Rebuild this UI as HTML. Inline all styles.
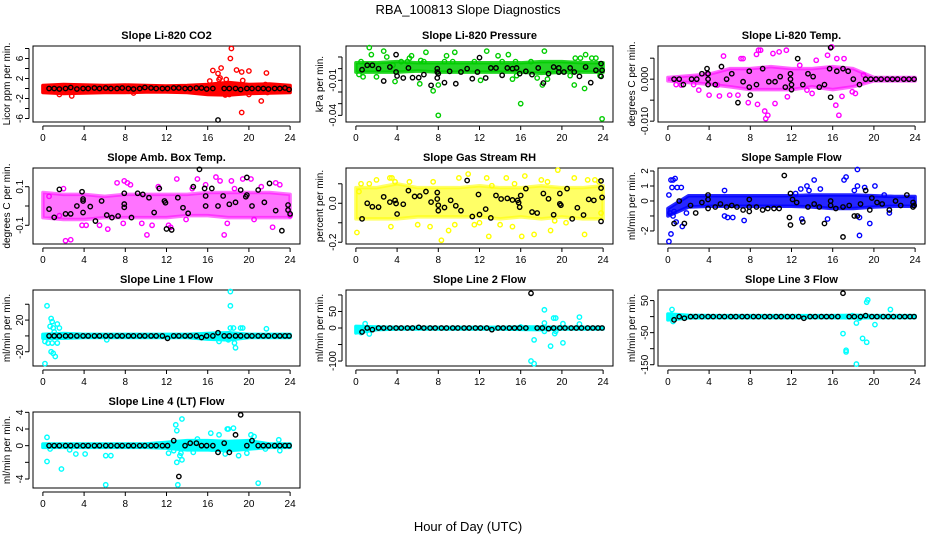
<!DOCTYPE html>
<html><head><meta charset="utf-8">
<style>
html,body{margin:0;padding:0;background:#fff;}
svg{display:block;font-family:"Liberation Sans",sans-serif;}
</style></head>
<body>
<svg id="chart" width="936" height="540" viewBox="0 0 936 540" xmlns="http://www.w3.org/2000/svg">
<text x="468" y="14" text-anchor="middle" font-size="13">RBA_100813  Slope Diagnostics</text>
<text x="468" y="531" text-anchor="middle" font-size="13">Hour of Day (UTC)</text>
</svg>
<script>
const xTicks=[0,4,8,12,16,20,24];
const bandHours=[0,2,4,6,8,10,12,14,16,18,20,22,24];
const blkHours=[0.6,1.1,1.6,2.2,2.7,3.3,3.9,4.4,5,5.5,6.1,6.6,7.2,7.7,8.3,8.8,9.4,9.9,10.5,11,11.6,12.1,12.7,13.2,13.8,14.3,14.9,15.4,15.9,16.5,17,17.6,18.1,18.7,19.2,19.8,20.3,20.9,21.4,21.9,22.5,23,23.5,23.9];

// Panel 1: CO2
const p1Hi=[0.6,0.8,0.7,0.6,0.7,0.6,0.5,0.6,0.8,1.2,0.8,0.9,0.6];
const p1Lo=[-0.8,-1,-0.9,-0.8,-0.8,-0.7,-0.7,-0.8,-1.2,-1.3,-1,-0.9,-0.8];
const p1Pts=[[1.6,-1.2],[2.8,-1.5],[8.8,-0.9],[16.5,3.6],[17,3],[17.3,4.1],[17.1,1.8],[17.2,2.1],[18.3,8],[18.2,6],[18.8,3.7],[19.3,3.3],[19.3,-4.8],[19.4,1.6],[20,3.5],[20,-1.2],[21.2,-2.5],[21.7,3.1],[21.8,-0.8],[17.8,1.8],[16.2,1.5],[18.1,-1.2],[17.7,-1.3],[19.9,-0.5],[21.6,0.8]];
const p1Blk=[0,0,-0.1,0,0.2,-0.1,0,0,0.1,0,0.1,0,0,0.1,0,-0.1,0,0.2,0.1,0,0,0,0.1,0.1,0,0,0.1,0.1,-0.1,0,-6.3,0,0,0,-0.2,0,0,0,0,-0.1,0,0,0.1,-0.2];
const p1Ticks=[-6,-4,-2,0,2,4,6,8];
const p1Labels=["-6","","-2","","2","","6",""];

// Panel 2: Pressure
const p2Hi=[0.005,0.005,0.006,0.005,0.005,0.005,0.005,0.005,0.005,0.006,0.006,0.005,0.005];
const p2Lo=[-0.003,-0.003,-0.003,-0.002,-0.003,-0.003,-0.003,-0.003,-0.003,-0.004,-0.003,-0.003,-0.003];
const p2Pts=[[1.3,0.018],[1.5,0.012],[2.7,0.015],[3,0.01],[0.5,0.006],[0.3,-0.005],[0.7,-0.007],[2,-0.007],[3.6,0.003],[3.8,-0.011],[4.4,0.006],[5,0.006],[5.2,0.009],[5.4,0.011],[6.3,0.007],[6.8,0.014],[6.6,0.006],[6.2,-0.013],[7.5,-0.019],[8,-0.014],[8,-0.04],[8.8,0.011],[8.6,0.006],[9.6,0.014],[9.4,0.006],[11.5,0.006],[12.7,0.015],[13.8,0.011],[12.1,-0.01],[14.2,0.006],[14.8,0.012],[15.2,-0.009],[15.5,0.006],[16,-0.03],[15.6,-0.006],[17,0.006],[17.6,-0.008],[18.3,0.015],[18.1,-0.014],[18.6,-0.009],[19.7,-0.003],[21.2,-0.014],[21.3,0.009],[21.8,0.009],[22.2,-0.017],[22.3,0.012],[22.9,0.009],[23.3,0.009],[23.9,-0.043],[23.7,-0.006],[20.8,-0.006]];
const p2Blk=[[0.6,-0.0009],[1.1,0.0029],[1.6,0.0029],[2.2,0],[2.7,-0.0106],[3.3,0.0014],[3.9,0.012],[3.9,-0.0029],[4,-0.0063],[4.6,-0.008],[5.1,0.0006],[5.5,-0.0077],[6.1,-0.0077],[6.6,-0.0051],[7.3,-0.0143],[7.9,0],[7.9,-0.0029],[7.9,-0.008],[8,-0.0043],[8.6,-0.012],[9.1,-0.0023],[9.7,-0.0129],[10.2,-0.0029],[10.8,0],[11.3,-0.0086],[11.8,-0.0029],[12,0.0094],[12.6,-0.008],[13.1,0.0006],[13.6,0.0006],[14.2,-0.0057],[14.7,0.0006],[15.2,0],[15.6,0.0006],[15.9,-0.0043],[16.5,-0.0023],[17.1,-0.0051],[17.7,0.0006],[18.2,-0.0123],[18.7,-0.0043],[19.2,0.0014],[19.7,0.0006],[19.7,-0.0029],[20.2,-0.0029],[20.8,0.0006],[21.2,-0.0029],[21.7,-0.0066],[22.3,0.0014],[22.8,-0.012],[23.3,-0.0014],[23.8,0.0043],[23.8,-0.0066],[23.9,-0.0014]];
const p2Ticks=[-0.04,-0.03,-0.02,-0.01,0,0.01];
const p2Labels=["-0.04","","","-0.01","",""];

// Panel 3: Temp
const p3Hi=[0.0004,0.0008,0.0012,0.0025,0.0025,0.003,0.0025,0.0025,0.003,0.0025,0.0004,0.0004,0.0004];
const p3Lo=[-0.0004,-0.0008,-0.0012,-0.0018,-0.0025,-0.0025,-0.0025,-0.0018,-0.0025,-0.0018,-0.0004,-0.0004,-0.0004];
const p3Pts=[[8.8,0.0069],[9,0.0069],[8.6,0.0059],[10.2,0.0061],[10.8,0.0065],[11.5,0.0069],[7.1,0.0049],[7.3,0.0049],[5.4,0.0055],[4,-0.0038],[5,-0.004],[6,-0.0038],[7.8,-0.0056],[8.7,-0.006],[9.4,-0.0076],[9.5,-0.0094],[9.7,-0.0086],[10.4,-0.0058],[11.6,-0.0042],[15.9,0.0077],[15.5,0.0057],[16.4,0.0049],[16.6,-0.0086],[16.3,-0.0062],[17.1,0.0049],[17.9,-0.003],[18.2,-0.0034],[4.8,-0.0014],[3,-0.0026],[2.5,-0.0013],[1.3,-0.0014],[0.8,-0.0013],[13.5,-0.0026],[14,-0.0034],[6.8,-0.0038],[19,0.001],[12.8,0.0033],[14.4,0.0045],[3.8,0.0013],[16.9,-0.0041]];
const p3Blk=[[0.6,0],[1.1,0],[1.5,-0.0013],[2.3,0],[2.8,0],[3.3,0.0013],[3.8,0.0025],[3.9,0.0013],[3.9,0],[3.9,-0.0013],[4.6,-0.0013],[5.2,0.003],[5.7,0],[6.2,0.0013],[6.8,-0.0056],[7.3,-0.0006],[7.9,0.0019],[7.9,-0.0019],[8,-0.0038],[8.6,-0.0013],[9.2,0.0025],[9.8,-0.0006],[10.4,-0.0006],[10.9,0.0006],[11.4,-0.0019],[11.9,0.0013],[11.9,0],[12,-0.0013],[12,-0.0025],[12.6,0.0049],[13.1,-0.0013],[13.6,0.0013],[14.1,0.0006],[14.7,-0.0019],[15.2,-0.0013],[15.7,0.0025],[15.8,0.0075],[15.8,-0.0043],[16.4,0.0019],[17,0.0025],[17.5,0.0019],[18,0],[18.6,-0.0013],[19.2,0],[19.7,0],[20.2,0],[20.7,0],[21.3,0],[21.8,0],[22.3,0],[22.9,0],[23.4,0],[23.9,0]];
const p3Ticks=[-0.01,-0.005,0,0.005];
const p3Labels=["-0.010","","0.000",""];

// Panel 4: Amb box temp
const p4Hi=[0.07,0.06,0.06,0.05,0.06,0.06,0.06,0.06,0.07,0.07,0.07,0.07,0.06];
const p4Lo=[-0.06,-0.07,-0.07,-0.06,-0.06,-0.06,-0.06,-0.05,-0.05,-0.06,-0.06,-0.06,-0.06];
const p4Pts=[[2.2,-0.18],[2.7,-0.175],[1.6,-0.05],[0.6,0.05],[2,0.09],[3.8,-0.1],[4.2,-0.1],[5.5,-0.1],[6.3,-0.12],[7.2,0.12],[7.9,0.13],[8.2,0.12],[8.5,0.11],[7.8,-0.09],[9.6,-0.09],[10.1,-0.15],[10.6,-0.1],[11.2,0.1],[12.2,-0.1],[12.4,-0.11],[13,0.14],[13.9,-0.07],[14.5,0.09],[15,0.14],[15.8,0.11],[16.8,0.15],[17.2,0.13],[17.6,-0.15],[17.9,-0.09],[18.3,0.13],[18.6,0.09],[19.4,0.14],[20.2,0.14],[20.5,-0.07],[21.2,0.1],[22.3,-0.11],[22.6,0.12],[23,0.11],[24,-0.05]];
const p4Blk=[[0.6,-0.016],[1.1,-0.059],[1.6,0.086],[2.2,-0.041],[2.7,-0.041],[3.3,0],[3.8,0.074],[3.9,0.026],[3.9,0.036],[3.9,-0.034],[4.6,-0.003],[5.1,-0.078],[5.7,0.026],[6.2,-0.047],[6.7,-0.06],[7.3,-0.052],[7.9,0.066],[7.9,0.01],[7.9,-0.007],[8.6,-0.06],[9.2,0.066],[9.7,0.06],[10.3,0.043],[10.8,-0.034],[11.3,0.091],[11.8,0.026],[11.9,0.017],[12,-0.119],[12.5,-0.124],[13.1,0.043],[13.6,-0.009],[14.1,-0.038],[14.6,0.1],[15.2,0.19],[15.7,0.091],[15.8,0.052],[15.8,0],[16.4,0.091],[17,0],[17.5,0.052],[18.1,0.009],[18.7,0.019],[19.2,0.083],[19.7,0.048],[19.8,0.148],[19.8,0.057],[20.3,0],[20.9,0.083],[21.5,0.019],[22,0.117],[22.6,-0.024],[23.2,-0.128],[23.8,0.005],[23.8,-0.021],[24,-0.041]];
const p4Ticks=[-0.1,0,0.1];
const p4Labels=["-0.1","","0.1"];

// Panel 5: Gas stream RH
const p5Hi=[0.08,0.08,0.1,0.08,0.08,0.08,0.09,0.08,0.08,0.09,0.08,0.08,0.09];
const p5Lo=[-0.08,-0.08,-0.08,-0.07,-0.07,-0.07,-0.07,-0.08,-0.07,-0.08,-0.07,-0.08,-0.08];
const p5Pts=[[0.1,-0.15],[0.5,0.1],[0.3,0.06],[1.3,0.1],[2,0.12],[3.3,0.13],[3.5,0.13],[3.4,-0.12],[3.8,0.11],[5.2,0.11],[6,-0.11],[7.5,0.11],[7.2,-0.12],[8.3,-0.19],[9,-0.14],[9.6,-0.11],[10,0.13],[10.9,0.15],[11.5,-0.11],[12,-0.1],[12.7,0.13],[12.9,-0.17],[13.2,0.09],[14,-0.11],[14.6,0.13],[15.2,-0.12],[15.4,0.1],[16.1,-0.17],[16.4,0.14],[17.3,-0.16],[18,0.12],[18.6,0.11],[18.9,-0.14],[19.6,0.17],[19.3,-0.09],[20.4,-0.1],[21.2,0.13],[22.2,-0.16],[22.5,0.12],[23.2,0.12],[23.8,-0.05],[23.6,0.11]];
const p5Blk=[[0.6,-0.08],[1.1,0],[1.6,-0.018],[2.2,-0.02],[2.7,0.033],[3.3,0.006],[3.8,0.015],[3.9,-0.001],[4,-0.055],[4.6,-0.005],[5.1,0.065],[5.7,0.035],[6.2,0.037],[6.8,0.06],[7.3,0.006],[7.9,0.055],[7.9,0.022],[8,-0.01],[8,-0.038],[8.6,-0.022],[9.2,0.015],[9.7,-0.013],[10.2,-0.038],[10.8,0.117],[11.3,-0.068],[11.9,0.045],[12,-0.058],[12.6,-0.03],[13.1,-0.075],[13.6,0.04],[14.1,0.022],[14.7,0.025],[15.2,0.017],[15.7,0.015],[15.8,0.003],[15.9,-0.02],[16,0.04],[16.5,0.075],[17.1,-0.045],[17.6,-0.05],[18.2,0.05],[18.7,0.023],[19.2,-0.059],[19.8,0.05],[19.8,-0.003],[19.9,-0.01],[20.5,0.075],[21,-0.08],[21.5,-0.023],[22.1,-0.06],[22.6,0.02],[23.1,0.015],[23.8,0.115],[23.8,0.078],[23.9,0.03],[23.8,-0.093]];
const p5Ticks=[-0.2,-0.1,0,0.1];
const p5Labels=["-0.2","","0.0",""];

// Panel 6: Sample flow
const p6Hi=[-0.5,0.35,0.35,0.35,0.35,0.35,0.35,0.4,0.4,0.4,0.35,0.3,0.3];
const p6Lo=[-1.0,-0.4,-0.35,-0.35,-0.35,-0.35,-0.35,-0.4,-0.5,-0.5,-0.4,-0.35,-0.35];
const p6Pts=[[0.1,-2.7],[0.3,-2.2],[0.1,0.4],[0.3,1.4],[0.5,1.4],[0.7,1.5],[0.4,0.9],[0.9,0.9],[1.3,0.9],[1.4,-1.7],[0.8,-1.4],[1.8,-0.8],[5.5,0.7],[5.5,-1],[5.8,-1.1],[6.3,-1.1],[7.4,-1.3],[12.4,0.5],[12.9,0.8],[13,-1.2],[13.5,1],[13.7,0.7],[14.2,1.4],[14.8,0.8],[15.5,-1.2],[17.1,1.4],[17.3,1.6],[18.1,0.7],[18.4,2.1],[18.4,1],[18.6,-2.3],[18.6,-1.1],[19.1,0.9],[19.6,-1.5],[20.1,1],[21,0.4],[21.5,-0.8],[0.2,-0.8],[0.5,-1.0],[0.6,-0.7]];
const p6Blk=[[0.6,-1.5],[1.1,0],[1.6,-1.5],[2.2,-0.3],[2.7,-0.8],[3.3,-0.1],[3.9,0.4],[3.9,0.1],[3.9,-0.5],[4.6,-0.4],[5.1,-0.2],[5.7,-0.4],[6.2,-0.3],[6.7,-0.4],[7.3,-0.6],[7.9,0.1],[7.9,-0.4],[7.9,-0.7],[8.6,-0.4],[9.2,-0.6],[9.7,-0.5],[10.3,-0.5],[10.8,-0.5],[11.3,1.7],[11.8,-1.1],[11.9,-1.6],[11.9,0.5],[12.1,0.1],[12.5,-0.1],[13.1,-1.4],[13.6,-0.4],[14.2,-0.2],[14.7,-0.4],[15.2,-1.5],[15.8,0],[15.8,-0.3],[16.3,-0.5],[17,-2.4],[17,-0.4],[17.6,-0.3],[18.1,-1],[18.4,-1],[18.7,-0.2],[19.2,0.7],[19.6,-0.6],[19.8,0.2],[20.3,-0.1],[20.8,-0.2],[21.5,-0.6],[22.1,0],[22.6,-0.3],[23.2,0.4],[23.8,-0.1],[23.8,-0.4],[23.9,-0.3]];
const p6Ticks=[-2,-1,0,1,2];
const p6Labels=["-2","","0","1","2"];

// Panel 7: Line 1 flow
const p7Hi=[2,3,2,2,2,2,2,2,3,4,2,2,2];
const p7Lo=[-3,-3,-2,-2,-2,-2,-2,-2,-4,-5,-2,-2,-2];
const p7Pts=[[0.2,-35],[0.4,38],[0.5,-9],[0.2,-7],[0.8,22],[0.9,18],[0.8,-20],[1,-22],[1.2,-26],[0.7,12],[1,10],[1.4,15],[1.6,10],[1.4,-9],[1.1,5],[0.9,-9],[6.2,-5],[17.1,-7],[18.2,56],[18.2,38],[18.2,10],[18.5,10],[18.6,-9],[18.7,-15],[19.2,10],[19.4,10],[21.7,9],[18,-5]];
const p7Blk=[0,0,0,0,0,0,0,0,0,0,0,0,0,0,0,0,0,0,0,0,0,-3,0,0,0,0,0,-2,0,0,4,0,0,0,0,0,0,0,0,0,0,0,0,0];
const p7Ticks=[-20,0,20,40];
const p7Labels=["-20","","20",""];

// Panel 8: Line 2 flow
const p8Hi=[5,3,2,2,2,2,2,2,3,3,2,2,2];
const p8Lo=[-15,-5,-3,-3,-3,-3,-3,-3,-4,-5,-3,-3,-3];
const p8Pts=[[0.9,13],[1.3,-18],[0.5,-14],[16,3],[17,-100],[17.3,-108],[17.3,-36],[18.3,55],[18.3,15],[18.3,-10],[18.9,-55],[19.2,30],[19.3,-17],[19.4,-10],[19.4,30],[20.1,-45],[20.1,13],[21.7,33],[21.7,12]];
const p8Blk=[-12,0,-5,0,0,0,0,0,0,0,2,0,0,0,0,0,0,0,0,0,0,0,0,-5,0,0,0,0,0,0,105,0,0,-2,0,0,0,0,0,0,0,0,0,0];
const p8Ticks=[-100,-50,0,50,100];
const p8Labels=["-100","","0","50",""];

// Panel 9: Line 3 flow
const p9Hi=[8,4,3,3,3,3,3,3,3,4,3,3,3];
const p9Lo=[-10,-4,-3,-3,-3,-3,-3,-3,-3,-4,-3,-3,-3];
const p9Pts=[[0.4,22],[0.5,-15],[0.3,5],[17,-53],[17.3,-105],[17.3,-110],[18.3,-148],[18.3,-20],[18.6,-5],[18.9,-68],[19.3,-80],[19.3,45],[19.4,52],[20.1,-25],[21.6,22],[17.9,3]];
const p9Blk=[-10,0,-5,0,0,0,0,0,0,0,0,0,0,0,0,0,0,0,0,0,0,0,0,-5,0,0,0,0,0,0,73,0,0,0,3,0,0,0,0,0,0,0,0,0];
const p9Ticks=[-150,-100,-50,0,50];
const p9Labels=["-150","","-50","","50"];

// Panel 10: Line 4 (LT) flow
const p10Hi=[0.2,0.2,0.2,0.2,0.2,0.2,0.4,0.6,0.6,0.5,0.6,0.2,0.2];
const p10Lo=[-0.2,-0.2,-0.2,-0.2,-0.2,-0.2,-0.3,-0.5,-0.5,-0.6,-0.4,-0.2,-0.2];
const p10Pts=[[0.4,1],[0.4,-1.9],[0.7,-0.4],[1.8,-2.8],[2.6,-0.5],[3.2,-1],[4.1,-1],[6.1,-1.2],[6.1,-4.7],[6.6,-1.2],[12.2,-0.9],[12.7,-0.6],[12.9,2.5],[13,1.8],[13,-2],[13.1,-4.7],[13.5,3.2],[13.3,-1.2],[13.5,-1.7],[13.4,-0.9],[14.6,-0.8],[15,0.8],[16.3,1.5],[16.4,-0.4],[17.1,1.3],[17.7,-1],[17.9,2],[18,2],[18.5,2.1],[19,-1.2],[20.2,1.3],[20.5,1.1],[20.9,-4.5],[19.8,-0.9],[22.9,0.7],[23,-0.6],[21.6,-0.4]];
const p10Blk=[0,0,0,0,0,0,0,0,0,0,0,0,0,0,0,0,0,0,0,0,0,0,0.6,-3.7,0,0.3,0.3,0,0,0,-0.8,0.3,-0.8,1.3,3.7,0,0.6,0,0,0,0,0,0,0];
const p10Ticks=[-4,-2,0,2,4];
const p10Labels=["-4","","0","2","4"];

const NS="http://www.w3.org/2000/svg";
const svg=document.getElementById('chart');
function mk(tag,attrs,parent){const e=document.createElementNS(NS,tag);for(const k in attrs)e.setAttribute(k,attrs[k]);(parent||svg).appendChild(e);return e;}

const colL=[33,346,658], rowT=[46,168,290,412], W=267, H=76;

function panel(id,col,row,title,ylab,dom,color,hi,lo,pts,blk,ticks,labels,dens){
  const L=colL[col],T=rowT[row];
  const g=mk('g',{});
  
  
  const sx=v=>L+(v+0.96)/25.92*W;
  const sy=v=>T+(dom[1]-v)/(dom[1]-dom[0])*H;
  const t=mk('text',{x:L+W/2,y:T-7,'text-anchor':'middle','font-size':'11','font-weight':'bold'},g);
  t.textContent=title;
  
  
  const yl=mk('text',{x:0,y:0,'text-anchor':'middle','font-size':'10',transform:`translate(${L-23},${T+H/2}) rotate(-90)`},g);
  yl.textContent=ylab;
  
  
  const box=mk('rect',{x:L,y:T,width:W,height:H,fill:'none',stroke:'#000','stroke-width':1},g);
  
  
  const xa=mk('g',{},g);
  
  
  mk('line',{x1:sx(xTicks[0]),x2:sx(xTicks[xTicks.length-1]),y1:T+H+4,y2:T+H+4,stroke:'#000'},xa);
  xTicks.forEach(v=>{
    mk('line',{x1:sx(v),x2:sx(v),y1:T+H+4,y2:T+H+8,stroke:'#000'},xa);
    const tl=mk('text',{x:sx(v),y:T+H+19,'text-anchor':'middle','font-size':'10'},xa);
    tl.textContent=String(v);
    
    
  });
  const ya=mk('g',{},g);
  
  
  mk('line',{x1:L-4,x2:L-4,y1:sy(ticks[0]),y2:sy(ticks[ticks.length-1]),stroke:'#000'},ya);
  ticks.forEach((v,i)=>{
    mk('line',{x1:L-8,x2:L-4,y1:sy(v),y2:sy(v),stroke:'#000'},ya);
    if(labels[i]){
      const tl=mk('text',{x:0,y:0,'text-anchor':'middle','font-size':'10',transform:`translate(${L-10},${sy(v)}) rotate(-90)`},ya);
      tl.textContent=labels[i];
      
      
    }
  });
  let p=bandHours.map((h,i)=>sx(h)+','+sy(hi[i]));
  p=p.concat(bandHours.map((h,i)=>sx(h)+','+sy(lo[i])).reverse());
  const band=mk('polygon',{points:p.join(' '),fill:color,'fill-opacity':dens,stroke:color,'stroke-opacity':dens,'stroke-width':3.5,'stroke-linejoin':'round'},g);
  
  
  pts.forEach(d=>{
    const c=mk('circle',{cx:sx(d[0]),cy:sy(d[1]),r:2.2,fill:'none',stroke:color,'stroke-width':1.4},g);
    
    
  });
  const bp=(typeof blk[0]==='number')?blk.map((v,i)=>[blkHours[i],v]):blk;
  bp.forEach(d=>{
    const c=mk('circle',{cx:sx(d[0]),cy:sy(d[1]),r:2.2,fill:'none',stroke:'#000','stroke-width':1.4},g);
    
    
  });
}

panel('co2',0,0,'Slope Li-820 CO2','Licor ppm per min.',[-6.7,8.5],'#ff0000',p1Hi,p1Lo,p1Pts,p1Blk,p1Ticks,p1Labels,1);
panel('pressure',1,0,'Slope Li-820 Pressure','kPa per min.',[-0.0457,0.0194],'#00cd00',p2Hi,p2Lo,p2Pts,p2Blk,p2Ticks,p2Labels,0.85);
panel('temp',2,0,'Slope Li-820 Temp.','degrees C per min.',[-0.0102,0.0079],'#ff00ff',p3Hi,p3Lo,p3Pts,p3Blk,p3Ticks,p3Labels,0.6);
panel('amb-box-temp',0,1,'Slope Amb. Box Temp.','degrees C per min.',[-0.197,0.197],'#ff00ff',p4Hi,p4Lo,p4Pts,p4Blk,p4Ticks,p4Labels,0.55);
panel('gas-rh',1,1,'Slope Gas Stream RH','percent per min.',[-0.209,0.181],'#ffff00',p5Hi,p5Lo,p5Pts,p5Blk,p5Ticks,p5Labels,0.6);
panel('sample-flow',2,1,'Slope Sample Flow','ml/min per min.',[-2.87,2.2],'#0000ff',p6Hi,p6Lo,p6Pts,p6Blk,p6Ticks,p6Labels,0.85);
panel('line1-flow',0,2,'Slope Line 1 Flow','ml/min per min.',[-38,58],'#00ffff',p7Hi,p7Lo,p7Pts,p7Blk,p7Ticks,p7Labels,1);
panel('line2-flow',1,2,'Slope Line 2 Flow','ml/min per min.',[-115,115],'#00ffff',p8Hi,p8Lo,p8Pts,p8Blk,p8Ticks,p8Labels,1);
panel('line3-flow',2,2,'Slope Line 3 Flow','ml/min per min.',[-154,83],'#00ffff',p9Hi,p9Lo,p9Pts,p9Blk,p9Ticks,p9Labels,1);
panel('line4-flow',0,3,'Slope Line 4 (LT) Flow','ml/min per min.',[-5.08,4.04],'#00ffff',p10Hi,p10Lo,p10Pts,p10Blk,p10Ticks,p10Labels,1);
</script>
</body></html>
